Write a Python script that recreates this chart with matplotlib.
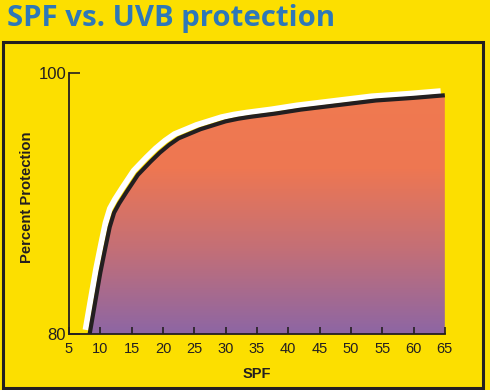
import numpy as np
import matplotlib.pyplot as plt
import matplotlib.transforms as mtransforms
from matplotlib.colors import LinearSegmentedColormap
from matplotlib.patches import Rectangle, Polygon

plt.rcParams['font.family'] = ['Liberation Sans', 'DejaVu Sans']

# data
spf = [8.3, 9.2, 10, 10.8, 11.5, 12.2, 13, 14.2, 16, 18, 19.5, 21, 22.5, 24, 26, 28, 30, 32, 34, 38, 42, 48, 54, 60, 65]
protection = [80, 82.5, 84.7, 86.6, 88.2, 89.3, 90.0, 90.9, 92.2, 93.2, 93.9, 94.5, 95.0, 95.3, 95.7, 96.0, 96.3, 96.5, 96.65, 96.9, 97.2, 97.55, 97.9, 98.1, 98.3]
x_ticks = [5, 10, 15, 20, 25, 30, 35, 40, 45, 50, 55, 60, 65]
y_ticks = [80, 100]

YELLOW = "#FCDF00"
INK = "#231F20"

fig = plt.figure(figsize=(4.9, 3.9), dpi=100, facecolor=YELLOW)

# title and frame
fig.text(0.014, 0.953, "SPF vs. UVB protection", fontsize=21.2, fontweight="bold",
         color="#2E78B8", family=["Open Sans", "DejaVu Sans"], va="center", ha="left")
fig.add_artist(Rectangle((0.007, 0.006), 0.979, 0.886, transform=fig.transFigure,
                         fill=False, edgecolor=INK, linewidth=2.2))

ax = fig.add_axes([0.1408, 0.1436, 0.767, 0.669])
ax.set_facecolor("none")
ax.set_xlim(5, 65)
ax.set_ylim(80, 100)

# gradient fill under the curve
cmap = LinearSegmentedColormap.from_list("sun", ["#8D66A4", "#C26F78", "#EE7752", "#F07A50"])
grad = np.linspace(0, 1, 256).reshape(-1, 1)
img = ax.imshow(grad, extent=[5, 65, 80, 99], origin="lower", aspect="auto",
                cmap=cmap, zorder=1)
poly = Polygon(list(zip(spf, protection)) + [(65, 80), (spf[0], 80)], closed=True,
               transform=ax.transData, facecolor="none", edgecolor="none")
ax.add_patch(poly)
img.set_clip_path(poly)

# white offset line behind the black curve
shift = mtransforms.offset_copy(ax.transData, fig=fig, x=-3.0, y=3.0, units="points")
ax.plot(spf, protection, color="white", linewidth=4.2, transform=shift,
        solid_capstyle="butt", solid_joinstyle="round", zorder=2, clip_on=False)
ax.plot(spf, protection, color=INK, linewidth=3.0,
        solid_capstyle="butt", solid_joinstyle="round", zorder=3)

for s in ["top", "right"]:
    ax.spines[s].set_visible(False)
for s in ["left", "bottom"]:
    ax.spines[s].set_color(INK)
    ax.spines[s].set_linewidth(1.3)
    ax.spines[s].set_zorder(4)

ax.set_xticks(x_ticks)
ax.set_yticks(y_ticks)
ax.tick_params(axis="x", direction="in", length=5, width=1.2, color=INK,
               labelsize=10.5, labelcolor=INK, pad=6)
ax.tick_params(axis="y", direction="in", length=8, width=1.2, color=INK,
               labelsize=12, labelcolor=INK, pad=2)

ax.set_xlabel("SPF", fontsize=10.5, fontweight="bold", color=INK, labelpad=8)
fig.text(0.055, 0.495, "Percent Protection", fontsize=10.6, fontweight="bold", color=INK,
         rotation=90, ha="center", va="center")

fig.savefig("out.png", dpi=100, facecolor=YELLOW)
